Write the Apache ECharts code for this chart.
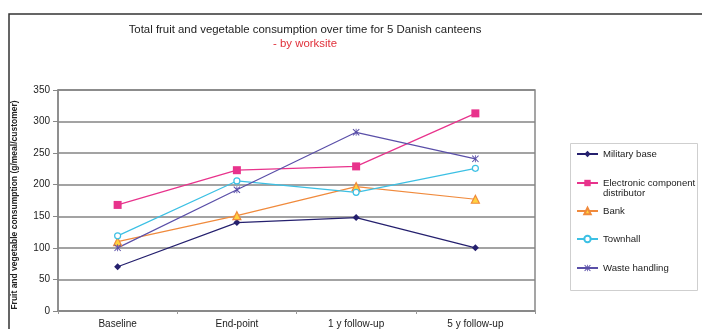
<!DOCTYPE html>
<html>
<head>
<meta charset="utf-8">
<script src="https://cdn.jsdelivr.net/npm/echarts@6/dist/echarts.min.js"></script>
<style>
  html, body { margin: 0; padding: 0; background: #fff; }
  #chart { width: 702px; height: 329px; }
</style>
</head>
<body>
<div id="chart"></div>
<script>
// Time points of the study
const categories = ['Baseline', 'End-point', '1 y follow-up', '5 y follow-up'];

// Fruit and vegetable consumption (g/meal/customer) per worksite canteen
const militaryBase = [70, 140, 148, 100];
const electronicDistributor = [168, 223, 229, 313];
const bank = [110, 151, 197, 177];
const townhall = [119, 206, 188, 226];
const wasteHandling = [100, 192, 283, 241];

const seriesNames = ['Military base', 'Electronic component distributor', 'Bank', 'Townhall', 'Waste handling'];
const yTicks = [0, 50, 100, 150, 200, 250, 300, 350];

const FONT = '"Liberation Sans", Arial, sans-serif';
// asterisk-like marker: an X crossed by a vertical bar
const starPath = 'path://M1,0L5,4L9,0L10,1L6,5L10,9L9,10L5,6L1,10L0,9L4,5L0,1Z M4.4,0L5.6,0L5.6,10L4.4,10Z';

function lineSeries(name, data, color, symbol, size, fill) {
  return {
    name: name,
    type: 'line',
    data: data,
    symbol: symbol,
    symbolSize: size,
    showAllSymbol: true,
    lineStyle: { color: color, width: 1.2 },
    itemStyle: { color: fill || color, borderColor: color, borderWidth: fill ? 1.2 : 0 },
    emphasis: { disabled: true },
    z: 3
  };
}

// one legend entry per worksite, stacked in the box on the right;
// the long name wraps below its key, so it gets a leading blank line
const legendCentres = [154, 183, 211, 239, 268];
const legends = seriesNames.map(function (name, i) {
  const twoLine = i === 1;
  return {
    orient: 'vertical',
    left: 576,
    top: legendCentres[i] - (twoLine ? 15 : 5),
    itemWidth: 21,
    itemHeight: 8,
    padding: 0,
    formatter: function (n) { return n === seriesNames[1] ? '\nElectronic component\ndistributor' : n; },
    textStyle: { fontFamily: FONT, fontSize: 9.6, color: '#222', lineHeight: 10 },
    data: [name]
  };
});

const chart = echarts.init(document.getElementById('chart'), null, { renderer: 'canvas' });
chart.setOption({
  animation: false,
  backgroundColor: '#fff',
  textStyle: { fontFamily: FONT },
  title: {
    left: 300,
    top: 19,
    textAlign: 'center',
    text: 'Total fruit and vegetable consumption over time for 5 Danish canteens',
    subtext: '- by worksite',
    itemGap: 3,
    textStyle: { fontFamily: FONT, fontSize: 11.4, fontWeight: 'normal', color: '#222' },
    subtextStyle: { fontFamily: FONT, fontSize: 11.4, color: '#e0303a' }
  },
  graphic: [
    {
      type: 'rect',
      shape: { x: 9, y: 14, width: 760, height: 400 },
      style: { fill: 'none', stroke: '#333', lineWidth: 1.5 },
      silent: true,
      z: 0
    },
    {
      type: 'rect',
      shape: { x: 570.5, y: 143.5, width: 127, height: 147 },
      style: { fill: '#fff', stroke: '#cfcfcf', lineWidth: 1 },
      silent: true,
      z: 0
    }
  ],
  legend: legends,
  grid: {
    left: 58,
    right: 167,
    top: 90,
    bottom: 17,
    show: true,
    borderColor: '#888',
    borderWidth: 1.5,
    backgroundColor: '#fff'
  },
  xAxis: {
    type: 'category',
    data: categories,
    boundaryGap: true,
    axisLine: { lineStyle: { color: '#888', width: 1.5 } },
    axisTick: { show: true, length: 3, lineStyle: { color: '#999' } },
    axisLabel: { fontFamily: FONT, fontSize: 10, color: '#222', margin: 8 }
  },
  yAxis: {
    type: 'value',
    min: yTicks[0],
    max: yTicks[yTicks.length - 1],
    interval: 50,
    name: 'Fruit and vegetable consumption (g/meal/customer)',
    nameLocation: 'middle',
    nameRotate: 90,
    nameGap: 39,
    nameTextStyle: {
      fontFamily: FONT, fontSize: 8.5, fontWeight: 'bold', color: '#222',
      padding: [0, 9, 0, 0]
    },
    axisLine: { show: true, lineStyle: { color: '#888', width: 1.5 } },
    axisTick: { show: true, length: 5, lineStyle: { color: '#888' } },
    axisLabel: { fontFamily: FONT, fontSize: 10, color: '#222', margin: 8 },
    splitLine: { lineStyle: { color: '#858585', width: 1.6 } }
  },
  series: [
    lineSeries(seriesNames[0], militaryBase, '#25206e', 'diamond', 7),
    lineSeries(seriesNames[1], electronicDistributor, '#e8338c', 'rect', 8),
    lineSeries(seriesNames[2], bank, '#f08a3c', 'triangle', 8, '#ffd23f'),
    lineSeries(seriesNames[3], townhall, '#3cc0e4', 'circle', 6, '#ffffff'),
    lineSeries(seriesNames[4], wasteHandling, '#5a4fa8', starPath, 7)
  ]
});
</script>
</body>
</html>
